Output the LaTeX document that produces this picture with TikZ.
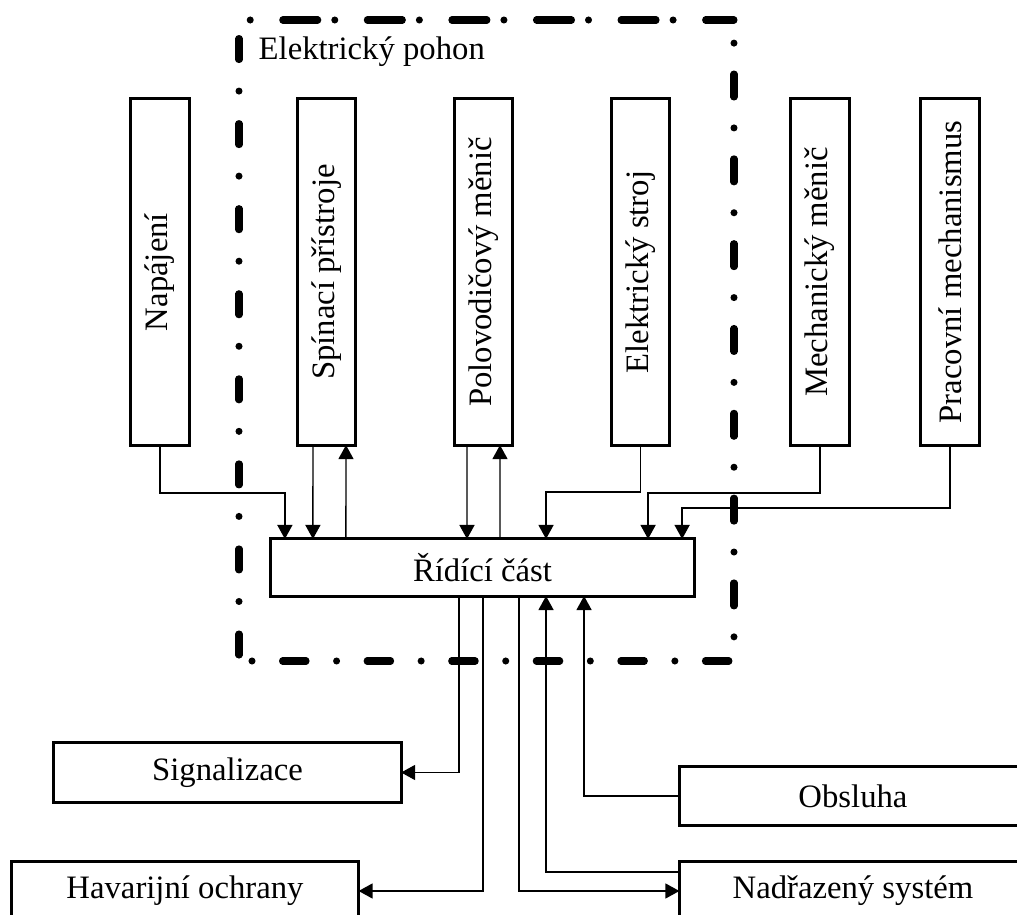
\documentclass[tikz,border=0pt]{standalone}
\usepackage{fontspec}
\setmainfont{Liberation Serif}
\usepackage{graphicx}
\usetikzlibrary{arrows.meta}

\tikzset{
  blok/.style={draw,line width=0.85pt,inner sep=0pt,outer sep=0pt},
  svisly/.style={blok,minimum width=0.58cm,minimum height=3.46cm},
  vodorovny/.style={blok,minimum width=3.47cm,minimum height=0.59cm},
  spoj/.style={line width=0.4pt,-{Triangle[width=1.5mm,length=1.4mm]}},
  ramec/.style={line width=2pt,line cap=round}
}

\begin{document}
\begin{tikzpicture}[x=0.01cm,y=-0.01cm,font=\fontsize{9.3}{11}\selectfont]
        \useasboundingbox (0,0) rectangle (1017,915);
        % elektricky pohon (ramec)
        \draw[ramec,dash pattern=on 9.96pt off 4.84pt on 0pt off 9.25pt,dash phase=11.61pt] (239,20) -- (734,20);
        \draw[ramec,dash pattern=on 6.69pt off 8.68pt on 0pt off 8.68pt,dash phase=11.67pt] (239,661) -- (734,661);
        \draw[ramec,dash pattern=on 5.98pt off 8.96pt on 0pt off 9.25pt,dash phase=18.92pt] (239,20) -- (239,661);
        \draw[ramec,dash pattern=on 6.54pt off 8.79pt on 0pt off 8.79pt,dash phase=8.76pt] (734,20) -- (734,661);
        \node[anchor=base west,inner sep=0pt] (pohon) at (258,60) {Elektrický pohon};
        % bloky
        \node[svisly] (nap) at (160,272) {\rotatebox{90}{Napájení}};
        \node[svisly] (spin) at (326.5,272) {\rotatebox{90}{Spínací přístroje}};
        \node[svisly] (polo) at (483.5,272) {\rotatebox{90}{Polovodičový měnič}};
        \node[svisly] (stroj) at (640.5,272) {\rotatebox{90}{Elektrický stroj}};
        \node[svisly] (mech) at (820,272) {\rotatebox{90}{Mechanický měnič}};
        \node[svisly] (prac) at (950,272) {\rotatebox{90}{Pracovní mechanismus}};
        \node[blok,minimum width=4.23cm,minimum height=0.57cm] (rid) at (482.5,567.5) {Řídící část};
        \node[vodorovny] (sig) at (227.5,772.5) {Signalizace};
        \node[vodorovny] (hav) at (185,891) {Havarijní ochrany};
        \node[vodorovny,minimum height=0.58cm] (obs) at (853,796) {Obsluha};
        \node[vodorovny] (nad) at (853,891) {Nadřazený systém};
        % spoje nahore
        \draw[spoj] (nap.south) -- ++(0,48) -| ([xshift=0.14cm]rid.north west);
        \draw[spoj] ([xshift=-0.135cm]spin.south) -- ([xshift=0.42cm]rid.north west);
        \draw[spoj] ([xshift=0.75cm]rid.north west) -- ([xshift=0.195cm]spin.south);
        \draw[spoj] ([xshift=-0.165cm]polo.south) -- ([xshift=1.96cm]rid.north west);
        \draw[spoj] ([xshift=2.29cm]rid.north west) -- ([xshift=0.165cm]polo.south);
        \draw[spoj] (stroj.south) -- ++(0,47) -| ([xshift=2.75cm]rid.north west);
        \draw[spoj] (mech.south) -- ++(0,48) -| ([xshift=3.77cm]rid.north west);
        \draw[spoj] (prac.south) -- ++(0,63) -| ([xshift=4.11cm]rid.north west);
        % spoje dole
        \draw[spoj] ([xshift=1.88cm]rid.south west) |- (sig.east);
        \draw[spoj] ([xshift=2.12cm]rid.south west) |- (hav.east);
        \draw[spoj] ([xshift=2.48cm]rid.south west) |- (nad.west);
        \draw[spoj] ([yshift=0.19cm]nad.west) -| ([xshift=2.75cm]rid.south west);
        \draw[spoj] (obs.west) -| ([xshift=3.13cm]rid.south west);
\end{tikzpicture}
\end{document}
